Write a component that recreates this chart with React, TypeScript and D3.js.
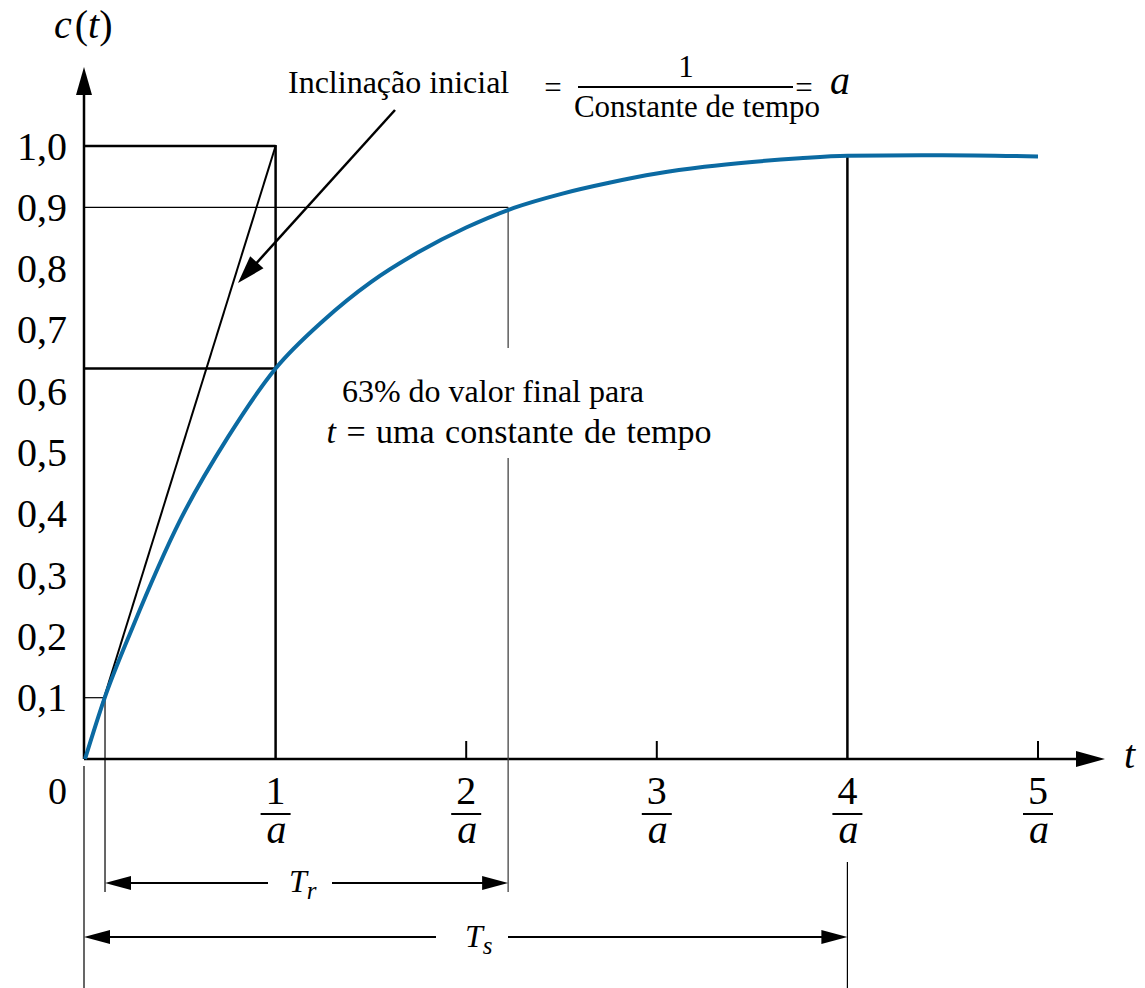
import React from "react";
import * as d3 from "d3";

// Step response c(t) of a first-order system, time in units of 1/a
const timeValues = [0, 0.1, 0.25, 0.5, 0.75, 1.0, 1.25, 1.5, 1.75, 2.0, 2.25, 2.5, 2.75, 3.0, 3.25, 3.5, 3.75, 4.0, 4.5, 5.0];
const responseValues = [0, 0.097, 0.215, 0.39, 0.525, 0.637, 0.715, 0.778, 0.827, 0.867, 0.899, 0.922, 0.94, 0.955, 0.966, 0.974, 0.98, 0.984, 0.985, 0.983];

const yTickValues = [0.1, 0.2, 0.3, 0.4, 0.5, 0.6, 0.7, 0.8, 0.9, 1.0];
const yTickLabels = ["0,1", "0,2", "0,3", "0,4", "0,5", "0,6", "0,7", "0,8", "0,9", "1,0"];
const xTickValues = [1, 2, 3, 4, 5];
const xTickNumerators = ["1", "2", "3", "4", "5"];

// Markers on the curve
const timeConstant = 1;
const levelAtTimeConstant = 0.637;
const riseStart = 0.105;
const riseEnd = 2.22;
const settleTime = 4;
const lowLevel = 0.1;
const highLevel = 0.9;

const FONT = '"Liberation Serif", "DejaVu Serif", serif';
const CURVE = "#0b6aa2";

function arrowHead(tipX: number, tipY: number, fromX: number, fromY: number, len = 26, half = 8) {
  const ang = Math.atan2(tipY - fromY, tipX - fromX);
  const bx = tipX - len * Math.cos(ang);
  const by = tipY - len * Math.sin(ang);
  const px = -Math.sin(ang) * half;
  const py = Math.cos(ang) * half;
  return `M${tipX},${tipY}L${bx + px},${by + py}L${bx - px},${by - py}Z`;
}

export default function App() {
  const width = 1145;
  const height = 988;
  const x = d3.scaleLinear().domain([0, 5]).range([85, 1038]);
  const y = d3.scaleLinear().domain([0, 1]).range([759, 146]);

  const points: [number, number][] = timeValues.map((t, i) => [t, responseValues[i]]);
  const line = d3
    .line<[number, number]>()
    .x((d) => x(d[0]))
    .y((d) => y(d[1]))
    .curve(d3.curveMonotoneX);

  const x0 = x(0) - 1;
  const y0 = y(0);
  const trY = 883;
  const tsY = 937;
  const ts = { fontFamily: FONT } as React.CSSProperties;

  return (
    <svg width={width} height={height} style={{ position: "absolute", left: 0, top: 0, background: "#fff", fontFamily: FONT }}>
      <rect width={width} height={height} fill="#fff" />

      {/* axes */}
      <line x1={x0} y1={y0} x2={x0} y2={92} stroke="#000" strokeWidth={2.5} />
      <path d={arrowHead(x0, 67, x0, y0, 28, 8)} fill="#000" />
      <line x1={x0} y1={y0} x2={1080} y2={y0} stroke="#000" strokeWidth={2.5} />
      <path d={arrowHead(1105, y0, x0, y0, 29, 8)} fill="#000" />

      {/* y tick labels */}
      {yTickValues.map((v, i) => (
        <text key={i} x={67} y={y(v) + 13.5} fontSize={40} textAnchor="end" fill="#000" style={ts}>
          {yTickLabels[i]}
        </text>
      ))}
      <text x={67} y={804} fontSize={38} textAnchor="end" fill="#000" style={ts}>0</text>

      {/* x ticks and fraction labels */}
      {xTickValues.map((v, i) => (
        <g key={i}>
          {v !== timeConstant && v !== settleTime && (
            <line x1={x(v)} y1={y0 - 18} x2={x(v)} y2={y0} stroke="#000" strokeWidth={2} />
          )}
          <text x={x(v)} y={804} fontSize={40} textAnchor="middle" fill="#000" style={ts}>
            {xTickNumerators[i]}
          </text>
          <line x1={x(v) - 15} y1={814} x2={x(v) + 15} y2={814} stroke="#000" strokeWidth={2} />
          <text x={x(v) + 1} y={843} fontSize={40} fontStyle="italic" textAnchor="middle" fill="#000" style={ts}>a</text>
        </g>
      ))}
      <text x={1124} y={768} fontSize={40} fontStyle="italic" fill="#000" style={ts}>t</text>

      {/* y axis title */}
      <text x={54} y={38} fontSize={40} fill="#000" style={ts}>
        <tspan fontStyle="italic">c</tspan>
        <tspan dx={3}>(</tspan>
        <tspan fontStyle="italic">t</tspan>
        <tspan>)</tspan>
      </text>

      {/* box at one time constant */}
      <line x1={x0} y1={y(1)} x2={x(timeConstant)} y2={y(1)} stroke="#000" strokeWidth={2.5} />
      <line x1={x(timeConstant)} y1={y(1) - 1} x2={x(timeConstant)} y2={y0} stroke="#000" strokeWidth={2.5} />
      <line x1={x0} y1={y(levelAtTimeConstant)} x2={x(timeConstant)} y2={y(levelAtTimeConstant)} stroke="#000" strokeWidth={2.5} />

      {/* initial slope tangent */}
      <line x1={x(0)} y1={y(0)} x2={x(timeConstant)} y2={y(1)} stroke="#000" strokeWidth={2} />

      {/* 10% and 90% guides */}
      <line x1={x0} y1={y(highLevel)} x2={x(riseEnd)} y2={y(highLevel)} stroke="#000" strokeWidth={1.2} />
      <line x1={x0} y1={y(lowLevel)} x2={x(riseStart)} y2={y(lowLevel)} stroke="#000" strokeWidth={1.2} />
      <line x1={x(riseStart)} y1={y(lowLevel)} x2={x(riseStart)} y2={892} stroke="#000" strokeWidth={1.2} />
      <line x1={x(riseEnd)} y1={y(highLevel)} x2={x(riseEnd)} y2={348} stroke="#444" strokeWidth={1.3} />
      <line x1={x(riseEnd)} y1={458} x2={x(riseEnd)} y2={892} stroke="#444" strokeWidth={1.3} />

      {/* settling time marker */}
      <line x1={x(settleTime)} y1={y(0.984)} x2={x(settleTime)} y2={y0} stroke="#000" strokeWidth={2.5} />
      <line x1={x(settleTime)} y1={862} x2={x(settleTime)} y2={988} stroke="#000" strokeWidth={1.2} />
      <line x1={x0} y1={766} x2={x0} y2={988} stroke="#000" strokeWidth={1.2} />

      {/* response curve */}
      <path d={line(points) ?? ""} fill="none" stroke={CURVE} strokeWidth={4} />

      {/* rise time dimension */}
      <line x1={x(riseStart) + 20} y1={trY} x2={268} y2={trY} stroke="#000" strokeWidth={2} />
      <line x1={332} y1={trY} x2={x(riseEnd) - 20} y2={trY} stroke="#000" strokeWidth={2} />
      <path d={arrowHead(x(riseStart), trY, x(riseEnd), trY, 26, 7)} fill="#000" />
      <path d={arrowHead(x(riseEnd), trY, x(riseStart), trY, 26, 7)} fill="#000" />
      <text x={289} y={892} fontSize={32} fontStyle="italic" fill="#000" style={ts}>
        T<tspan fontSize={25} dy={7}>r</tspan>
      </text>

      {/* settling time dimension */}
      <line x1={x0 + 20} y1={tsY} x2={436} y2={tsY} stroke="#000" strokeWidth={2} />
      <line x1={508} y1={tsY} x2={x(settleTime) - 20} y2={tsY} stroke="#000" strokeWidth={2} />
      <path d={arrowHead(x0, tsY, x(settleTime), tsY, 26, 7)} fill="#000" />
      <path d={arrowHead(x(settleTime), tsY, x0, tsY, 26, 7)} fill="#000" />
      <text x={465} y={947} fontSize={32} fontStyle="italic" fill="#000" style={ts}>
        T<tspan fontSize={25} dy={7}>s</tspan>
      </text>

      {/* initial slope annotation */}
      <text x={288} y={93} fontSize={32} fill="#000" style={ts}>Inclinação inicial</text>
      <text x={553} y={98} fontSize={31} textAnchor="middle" fill="#000" style={ts}>=</text>
      <text x={686} y={77} fontSize={31} textAnchor="middle" fill="#000" style={ts}>1</text>
      <line x1={578} y1={87} x2={793} y2={87} stroke="#000" strokeWidth={2} />
      <text x={697} y={117} fontSize={31} textAnchor="middle" fill="#000" style={ts}>Constante de tempo</text>
      <text x={804} y={98} fontSize={31} textAnchor="middle" fill="#000" style={ts}>=</text>
      <text x={830} y={94} fontSize={40} fontStyle="italic" fill="#000" style={ts}>a</text>
      <line x1={395} y1={110} x2={252} y2={268} stroke="#000" strokeWidth={2.5} />
      <path d={arrowHead(238, 283, 395, 110, 28, 9)} fill="#000" />

      {/* 63% annotation */}
      <text x={493} y={402} fontSize={32} textAnchor="middle" fill="#000" style={ts}>63% do valor final para</text>
      <text x={519} y={443} fontSize={34} textAnchor="middle" fill="#000" style={{ ...ts, wordSpacing: 2 }}>
        <tspan fontStyle="italic">t</tspan> = uma constante de tempo
      </text>
    </svg>
  );
}
